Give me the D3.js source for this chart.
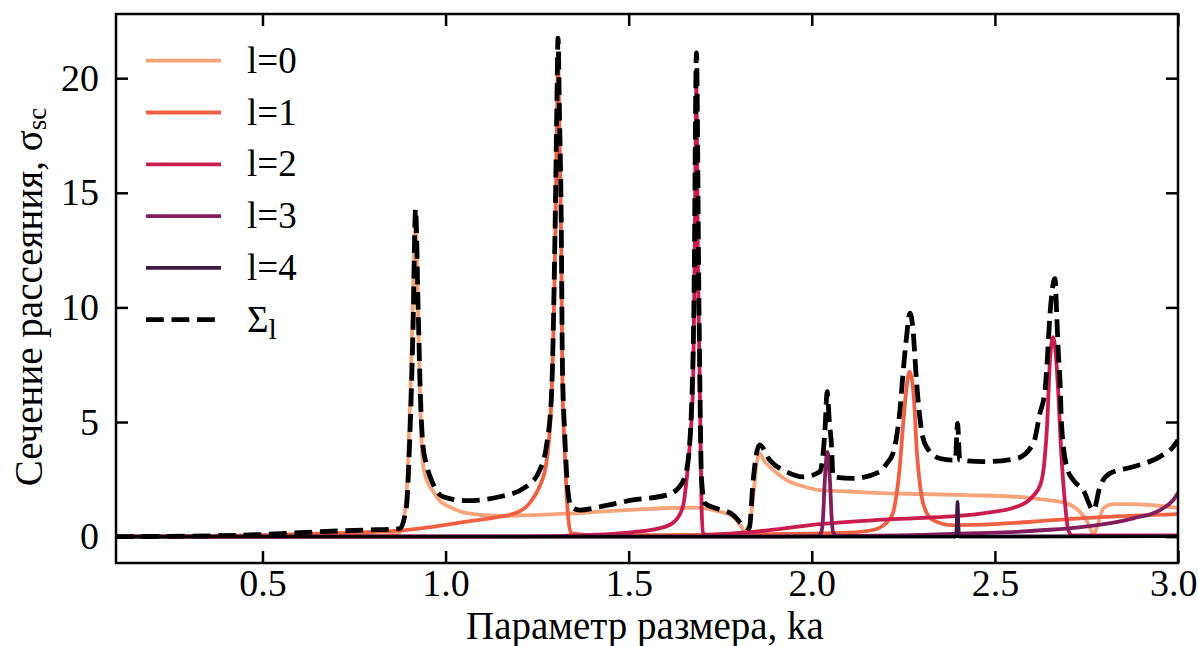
<!DOCTYPE html>
<html>
<head>
<meta charset="utf-8">
<script src="https://cdn.jsdelivr.net/npm/d3@7"></script>
<style>
  body { margin: 0; background: #fff; }
  svg { display: block; }
  text { font-family: "Liberation Serif", "Times New Roman", serif; fill: #000; }
</style>
</head>
<body>
<svg id="chart" width="1198" height="646"></svg>
<script>
// partial cross sections, [ka, sigma]
const l0_points = [[0.10,0.00],[0.50,0.01],[0.80,0.04],[0.870,0.10],[0.888,1.0],[0.897,3.0],[0.904,6.3],[0.911,10.5],
  [0.918,13.95],[0.924,10.5],[0.930,6.3],[0.938,3.2],[0.950,2.4],[0.965,2.0],[0.985,1.55],[1.011,1.3],[1.057,1.03],
  [1.148,0.90],[1.238,0.94],[1.330,1.0],[1.421,1.09],[1.520,1.18],[1.603,1.25],[1.680,1.27],[1.720,1.20],[1.749,1.09],
  [1.785,0.87],[1.808,0.43],[1.821,0.12],[1.832,0.6],[1.840,1.74],[1.851,3.34],[1.858,3.63],[1.870,3.30],[1.885,3.05],
  [1.931,2.47],[1.976,2.20],[2.022,2.03],[2.100,1.97],[2.204,1.89],[2.300,1.86],[2.423,1.81],[2.559,1.74],[2.640,1.60],
  [2.696,1.45],[2.732,1.09],[2.755,0.58],[2.769,0.10],[2.782,0.58],[2.796,1.23],[2.823,1.42],[2.870,1.42],[2.923,1.38],[3.00,1.25]];

const l1_points = [[0.10,0.00],[0.30,0.02],[0.50,0.06],[0.70,0.15],[0.874,0.26],[0.965,0.43],[1.057,0.65],[1.148,0.87],
  [1.195,1.05],[1.220,1.3],[1.240,1.7],[1.257,2.2],[1.275,3.2],[1.289,6.0],[1.2995,13.0],[1.304,18.0],[1.307,20.7],
  [1.311,17.5],[1.316,12.5],[1.319,6.8],[1.325,3.9],[1.334,1.0],[1.343,0.15],[1.40,0.06],[1.60,0.07],[1.80,0.10],
  [2.00,0.13],[2.10,0.17],[2.17,0.30],[2.20,0.55],[2.221,1.0],[2.232,1.9],[2.240,3.0],[2.249,4.8],[2.258,6.4],
  [2.267,7.2],[2.274,6.8],[2.281,5.5],[2.286,3.9],[2.293,2.6],[2.300,1.75],[2.315,1.0],[2.331,0.72],[2.385,0.50],
  [2.50,0.55],[2.60,0.65],[2.79,0.85],[3.00,0.98]];

const l2_points = [[0.10,0.00],[1.20,0.01],[1.40,0.08],[1.512,0.20],[1.580,0.35],[1.621,0.60],[1.648,1.3],[1.658,2.47],
  [1.669,4.5],[1.676,6.8],[1.680,12.0],[1.685,19.7],[1.689,12.0],[1.694,6.8],[1.699,1.3],[1.703,0.15],[1.715,0.08],
  [1.749,0.11],[1.840,0.21],[2.022,0.55],[2.204,0.75],[2.423,0.94],[2.468,1.02],[2.559,1.3],[2.600,1.7],[2.625,2.3],
  [2.636,3.4],[2.643,5.0],[2.650,7.6],[2.659,8.7],[2.667,7.8],[2.674,6.0],[2.680,4.0],[2.686,2.5],[2.693,1.2],
  [2.700,0.30],[2.710,0.06],[2.80,0.05],[3.00,0.05]];

const l3_points = [[0.10,0.00],[1.90,0.00],[2.015,0.02],[2.026,0.2],[2.031,0.9],[2.035,2.3],[2.0425,3.7],[2.050,2.3],
  [2.054,0.9],[2.058,0.2],[2.068,0.03],[2.30,0.08],[2.45,0.15],[2.559,0.21],[2.650,0.30],[2.741,0.43],[2.820,0.60],
  [2.878,0.80],[2.951,1.16],[2.987,1.60],[3.00,1.90]];

const l4_points = [[0.10,0.00],[2.380,0.00],[2.393,0.00],[2.396,0.5],[2.398,1.52],[2.400,0.5],[2.403,0.00],[3.00,0.02]];

const total_points = [[0.10,0.00],[0.374,0.04],[0.511,0.10],[0.648,0.21],[0.784,0.29],[0.875,0.35],[0.893,1.3],
  [0.902,4.2],[0.911,9.0],[0.918,14.3],[0.925,10.0],[0.931,6.3],[0.938,4.0],[0.947,3.2],[0.965,2.33],[0.993,1.74],
  [1.057,1.57],[1.148,1.74],[1.220,2.18],[1.257,2.9],[1.275,3.92],[1.289,6.1],[1.2995,14.0],[1.304,19.0],[1.307,21.75],
  [1.311,18.5],[1.316,13.5],[1.319,7.5],[1.325,4.6],[1.334,2.0],[1.343,1.3],[1.366,1.16],[1.421,1.3],[1.512,1.6],
  [1.603,1.81],[1.639,2.18],[1.658,2.9],[1.671,5.38],[1.678,10.0],[1.685,21.1],[1.692,10.0],[1.699,2.47],[1.708,1.45],
  [1.740,1.23],[1.785,0.95],[1.817,0.43],[1.829,0.36],[1.840,2.47],[1.851,3.78],[1.858,4.0],[1.885,3.34],[1.931,2.83],
  [1.976,2.61],[2.022,2.83],[2.036,4.65],[2.042,6.32],[2.048,5.0],[2.054,3.92],[2.058,2.61],[2.113,2.54],[2.186,2.83],
  [2.205,3.2],[2.222,3.65],[2.232,4.4],[2.240,5.4],[2.249,7.1],[2.258,8.6],[2.268,9.75],[2.276,9.1],[2.285,7.0],
  [2.290,6.0],[2.300,4.6],[2.313,3.92],[2.350,3.41],[2.386,3.34],[2.392,3.34],[2.398,4.94],[2.404,3.34],[2.468,3.27],
  [2.559,3.41],[2.605,4.07],[2.623,5.38],[2.637,6.4],[2.643,7.7],[2.650,9.6],[2.664,11.26],[2.669,9.6],[2.673,8.1],
  [2.678,6.7],[2.682,4.9],[2.696,3.05],[2.714,2.47],[2.741,2.03],[2.769,1.16],[2.787,2.18],[2.814,2.76],[2.878,3.05],
  [2.951,3.49],[2.987,3.92],[3.00,4.21]];

const series_points = [l0_points, l1_points, l2_points, l3_points, l4_points];
const series_labels = ["l=0", "l=1", "l=2", "l=3", "l=4"];
const ka_ticks = [0.5, 1.0, 1.5, 2.0, 2.5, 3.0];
const sigma_ticks = [0, 5, 10, 15, 20];

const colors = ["#f5a47b", "#f06043", "#cb1b4f", "#841e5a", "#3f1b44"];

const svg = d3.select("#chart");
const margins = { top: 14, right: 20, bottom: 83, left: 116 };
const width = 1198, height = 646;
const tick_font = 38, label_font = 39, legend_font = 37;

var x = d3.scaleLinear().domain([0.1, 3.0]).range([margins.left, width - margins.right]);
var y = d3.scaleLinear().domain([-1.15, 22.8]).range([height - margins.bottom, margins.top]);

svg.append("defs").append("clipPath").attr("id", "clip")
  .append("rect")
  .attr("x", margins.left).attr("y", margins.top)
  .attr("width", width - margins.left - margins.right)
  .attr("height", height - margins.top - margins.bottom);

var line = d3.line()
  .x(d => x(d[0]))
  .y(d => y(d[1]))
  .curve(d3.curveMonotoneX);

var plot = svg.append("g").attr("clip-path", "url(#clip)");

plot.selectAll("path.partial")
  .data(series_points)
  .join("path")
  .attr("class", "partial")
  .attr("d", line)
  .attr("fill", "none")
  .attr("stroke", (d, i) => colors[i])
  .attr("stroke-width", 3.8)
  .attr("stroke-linejoin", "round");

// zero line
plot.append("line")
  .attr("x1", margins.left).attr("x2", width - margins.right)
  .attr("y1", y(0)).attr("y2", y(0))
  .attr("stroke", "#000").attr("stroke-width", 2.6);

plot.append("path")
  .datum(total_points)
  .attr("d", line)
  .attr("fill", "none")
  .attr("stroke", "#000")
  .attr("stroke-width", 4.8)
  .attr("stroke-dasharray", "17.8,7.7");

// axes, ticks pointing inward on all four sides
const tick_len = 12;
function style_axis(g) {
  g.select(".domain").remove();
  g.selectAll(".tick line").attr("stroke", "#000").attr("stroke-width", 2.5);
  g.selectAll(".tick text").style("font-size", tick_font + "px").style("font-family", "Liberation Serif, serif");
}

var x_axis = svg.append("g")
  .attr("transform", `translate(0,${height - margins.bottom})`)
  .call(d3.axisBottom(x).tickValues(ka_ticks).tickFormat(d3.format(".1f")).tickSize(-tick_len).tickPadding(6))
  .call(style_axis);
// last label sits on the page edge, keep it inside
x_axis.selectAll(".tick text").filter(d => d === 3.0)
  .attr("text-anchor", "end").attr("x", 19);

svg.append("g")
  .attr("transform", `translate(0,${margins.top})`)
  .call(d3.axisTop(x).tickValues(ka_ticks).tickFormat("").tickSize(-tick_len))
  .call(style_axis);

svg.append("g")
  .attr("transform", `translate(${margins.left},0)`)
  .call(d3.axisLeft(y).tickValues(sigma_ticks).tickFormat(d3.format("d")).tickSize(-tick_len).tickPadding(17))
  .call(style_axis);

svg.append("g")
  .attr("transform", `translate(${width - margins.right},0)`)
  .call(d3.axisRight(y).tickValues(sigma_ticks).tickFormat("").tickSize(-tick_len))
  .call(style_axis);

svg.append("rect")
  .attr("x", margins.left).attr("y", margins.top)
  .attr("width", width - margins.left - margins.right)
  .attr("height", height - margins.top - margins.bottom)
  .attr("fill", "none")
  .attr("stroke", "#000")
  .attr("stroke-width", 2.5);

// axis titles
svg.append("text")
  .attr("x", 645)
  .attr("y", 639)
  .attr("text-anchor", "middle")
  .style("font-size", label_font + "px")
  .text("Параметр размера, ka");

var ylab = svg.append("text")
  .attr("transform", "translate(42,297) rotate(-90)")
  .attr("text-anchor", "middle")
  .style("font-size", label_font + "px");
ylab.append("tspan").text("Сечение рассеяния, σ");
ylab.append("tspan").attr("dy", 4).style("font-size", "27px").text("sc");

// legend
const legend = svg.append("g");
const leg_x = 146, leg_y = 60.7, leg_step = 51.8;

series_labels.forEach((lab, i) => {
  legend.append("line")
    .attr("x1", leg_x).attr("x2", leg_x + 75)
    .attr("y1", leg_y + i * leg_step).attr("y2", leg_y + i * leg_step)
    .attr("stroke", colors[i]).attr("stroke-width", 3.8);
  legend.append("text")
    .attr("x", 247).attr("y", leg_y + i * leg_step + 12)
    .style("font-size", legend_font + "px")
    .text(lab);
});

const sum_y = leg_y + 5 * leg_step;
legend.append("line")
  .attr("x1", leg_x).attr("x2", leg_x + 75)
  .attr("y1", sum_y).attr("y2", sum_y)
  .attr("stroke", "#000").attr("stroke-width", 4.8)
  .attr("stroke-dasharray", "17.8,7.7");
var sum_text = legend.append("text")
  .attr("x", 247).attr("y", sum_y + 12)
  .style("font-size", legend_font + "px");
sum_text.append("tspan").text("Σ");
sum_text.append("tspan").attr("dy", 7).style("font-size", "30px").text("l");
</script>
</body>
</html>
